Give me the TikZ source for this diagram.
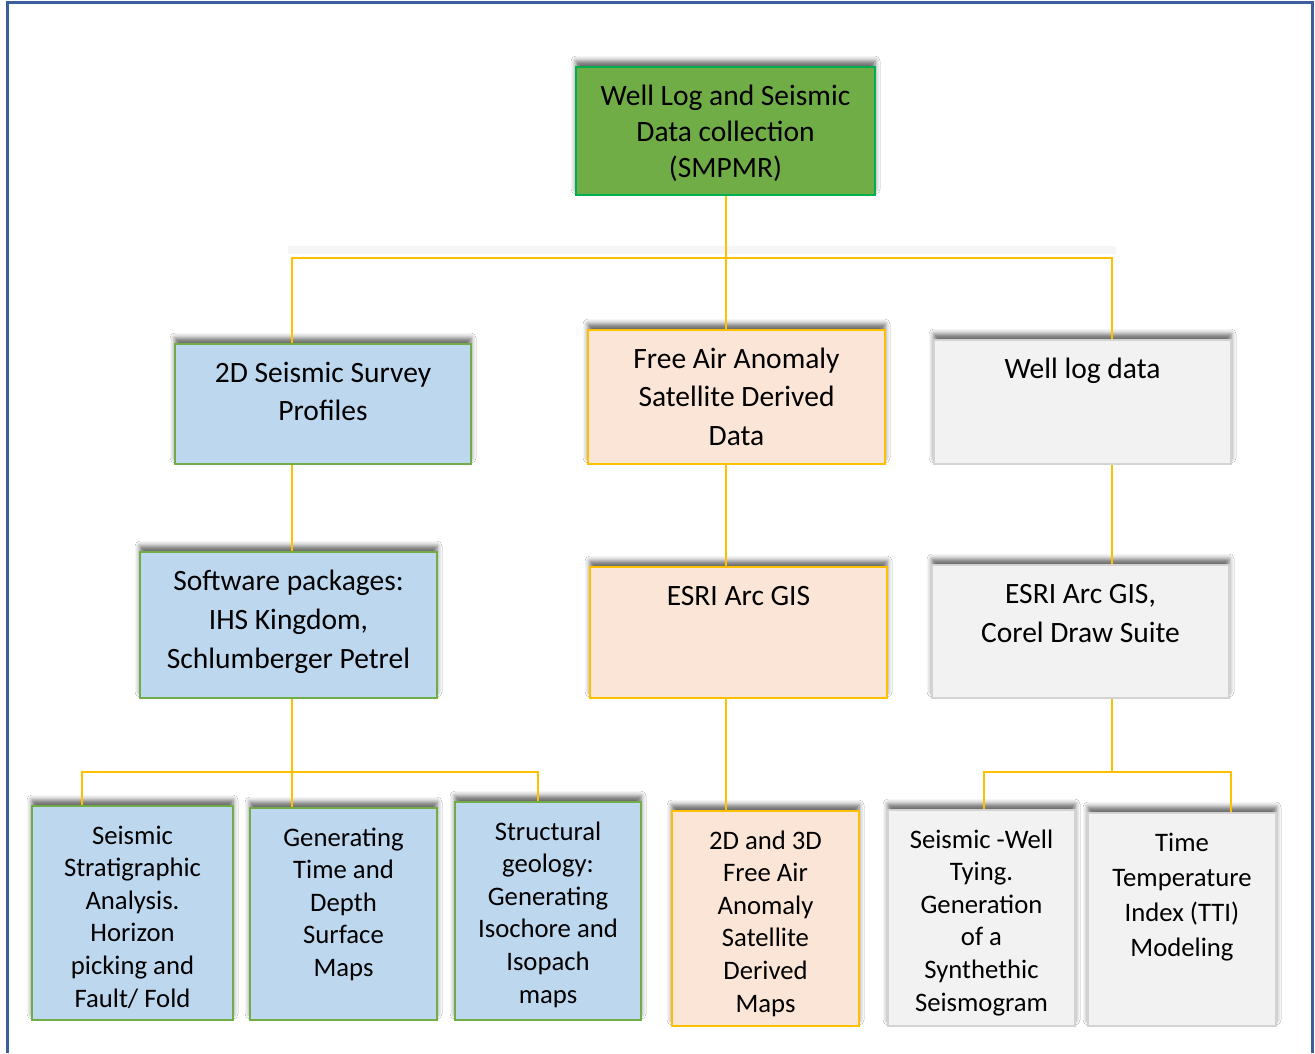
\documentclass[tikz,border=0pt]{standalone}
\usepackage{fontspec}
\setmainfont{Carlito}
\usetikzlibrary{shadows.blur}
\definecolor{frameblue}{HTML}{3A5F9C}
\definecolor{conncol}{HTML}{FFC000}
\definecolor{topfill}{HTML}{70AD47}
\definecolor{topline}{HTML}{00B050}
\definecolor{bluefill}{HTML}{BDD7EE}
\definecolor{blueline}{HTML}{70AD47}
\definecolor{peachfill}{HTML}{FBE5D6}
\definecolor{peachline}{HTML}{FFC000}
\definecolor{grayfill}{HTML}{F2F2F2}
\definecolor{grayline}{HTML}{D3D3D3}
\newcommand\tst{\rule{0pt}{25pt}}
\tikzset{
  boxbase/.style={rectangle, line width=2.4pt, inner sep=0pt,
    blur shadow={shadow xshift=0pt, shadow yshift=6pt, shadow blur radius=5pt, shadow opacity=60}},
  topbox/.style={boxbase, fill=topfill, draw=topline},
  bluebox/.style={boxbase, fill=bluefill, draw=blueline},
  peachbox/.style={boxbase, fill=peachfill, draw=peachline},
  graybox/.style={boxbase, fill=grayfill, draw=grayline},
  txt/.style={anchor=north, inner sep=0pt, align=center, yshift=-14pt, text=black},
  conn/.style={draw=conncol, line width=2.8pt},
  frameline/.style={draw=frameblue, line width=3pt}
}
\begin{document}
\begin{tikzpicture}[x=1pt, y=-1pt]
\useasboundingbox (0,0) rectangle (1315,1053);
\fill[white] (0,0) rectangle (1315,1053);
\draw[frameline] (7,1053) -- (7,2.5) -- (1312,2.5) -- (1312,1053);

% boxes
\node[topbox, minimum width=299pt, minimum height=128pt] (top) at (725.5,131) {};
\node[bluebox, minimum width=296pt, minimum height=120pt] (s2d) at (323,404) {};
\node[peachbox, minimum width=297pt, minimum height=134pt] (fa) at (736.5,397) {};
\node[graybox, minimum width=297pt, minimum height=124pt] (wl) at (1082.5,402) {};
\node[bluebox, minimum width=297pt, minimum height=146pt] (sw) at (288.5,625) {};
\node[peachbox, minimum width=297pt, minimum height=131pt] (esri) at (738.5,632.5) {};
\node[graybox, minimum width=297pt, minimum height=133pt] (corel) at (1080.5,631.5) {};
\node[bluebox, minimum width=201pt, minimum height=214pt] (ssa) at (132.5,913) {};
\node[bluebox, minimum width=187pt, minimum height=212pt] (gtd) at (343.5,914) {};
\node[bluebox, minimum width=186pt, minimum height=218pt] (sg) at (548,911) {};
\node[peachbox, minimum width=187pt, minimum height=215pt] (fam) at (765.5,918.5) {};
\node[graybox, minimum width=187pt, minimum height=216pt] (swt) at (981.5,918) {};
\node[graybox, minimum width=188pt, minimum height=213pt] (tti) at (1182,919.5) {};

% texts
\node[txt, font=\fontsize{29.5}{36}\selectfont] (ttop) at (top.north) {\tst Well Log and Seismic\\Data collection\\(SMPMR)};
\node[txt, font=\fontsize{29.5}{38.5}\selectfont] (ts2d) at (s2d.north) {\tst 2D Seismic Survey\\Profiles};
\node[txt, font=\fontsize{29.5}{38.5}\selectfont] (tfa) at (fa.north) {\tst Free Air Anomaly\\Satellite Derived\\Data};
\node[txt, font=\fontsize{29.5}{38.5}\selectfont] (twl) at (wl.north) {\tst Well log data};
\node[txt, font=\fontsize{29.5}{39}\selectfont] (tsw) at (sw.north) {\tst Software packages:\\IHS Kingdom,\\Schlumberger Petrel};
\node[txt, font=\fontsize{29.5}{39}\selectfont] (tesri) at (esri.north) {\tst ESRI Arc GIS};
\node[txt, font=\fontsize{29.5}{39}\selectfont] (tcorel) at (corel.north) {\tst ESRI Arc GIS,\\Corel Draw Suite};
\node[txt, font=\fontsize{26.7}{32.6}\selectfont] (tssa) at (ssa.north) {\tst Seismic\\Stratigraphic\\Analysis.\\Horizon\\picking and\\Fault/ Fold};
\node[txt, font=\fontsize{26.7}{32.6}\selectfont] (tgtd) at (gtd.north) {\tst Generating\\Time and\\Depth\\Surface\\Maps};
\node[txt, font=\fontsize{26.7}{32.6}\selectfont] (tsg) at (sg.north) {\tst Structural\\geology:\\Generating\\Isochore and\\Isopach\\maps};
\node[txt, font=\fontsize{26.7}{32.6}\selectfont] (tfam) at (fam.north) {\tst 2D and 3D\\Free Air\\Anomaly\\Satellite\\Derived\\Maps};
\node[txt, font=\fontsize{26.7}{32.6}\selectfont] (tswt) at (swt.north) {\tst Seismic -Well\\Tying.\\Generation\\of a\\Synthethic\\Seismogram};
\node[txt, font=\fontsize{26.7}{35}\selectfont] (ttti) at (tti.north) {\tst Time\\Temperature\\Index (TTI)\\Modeling};

% connectors
\coordinate (j1) at (292,258);
\coordinate (j2) at (726,258);
\coordinate (j3) at (1112,258);
\draw[gray!8, line width=8pt] (288,250) -- (1116,250);
\draw[conn] (top.south -| j2) -- (j2);
\draw[conn] (s2d.north -| j1) -- (j1) -- (j3) -- (wl.north -| j3);
\draw[conn] (j2) -- (fa.north -| j2);
\draw[conn] (s2d.south -| j1) -- (sw.north -| j1);
\draw[conn] (fa.south -| j2) -- (esri.north -| j2);
\draw[conn] (wl.south -| j3) -- (corel.north -| j3);

\coordinate (k1) at (82,772);
\coordinate (k2) at (292,772);
\coordinate (k3) at (538,772);
\draw[conn] (sw.south -| k2) -- (k2);
\draw[conn] (ssa.north -| k1) -- (k1) -- (k3) -- (sg.north -| k3);
\draw[conn] (k2) -- (gtd.north -| k2);

\draw[conn] (esri.south -| j2) -- (fam.north -| j2);

\coordinate (m1) at (984,772);
\coordinate (m2) at (1112,772);
\coordinate (m3) at (1231,772);
\draw[conn] (corel.south -| m2) -- (m2);
\draw[conn] (swt.north -| m1) -- (m1) -- (m3) -- (tti.north -| m3);
\end{tikzpicture}
\end{document}
